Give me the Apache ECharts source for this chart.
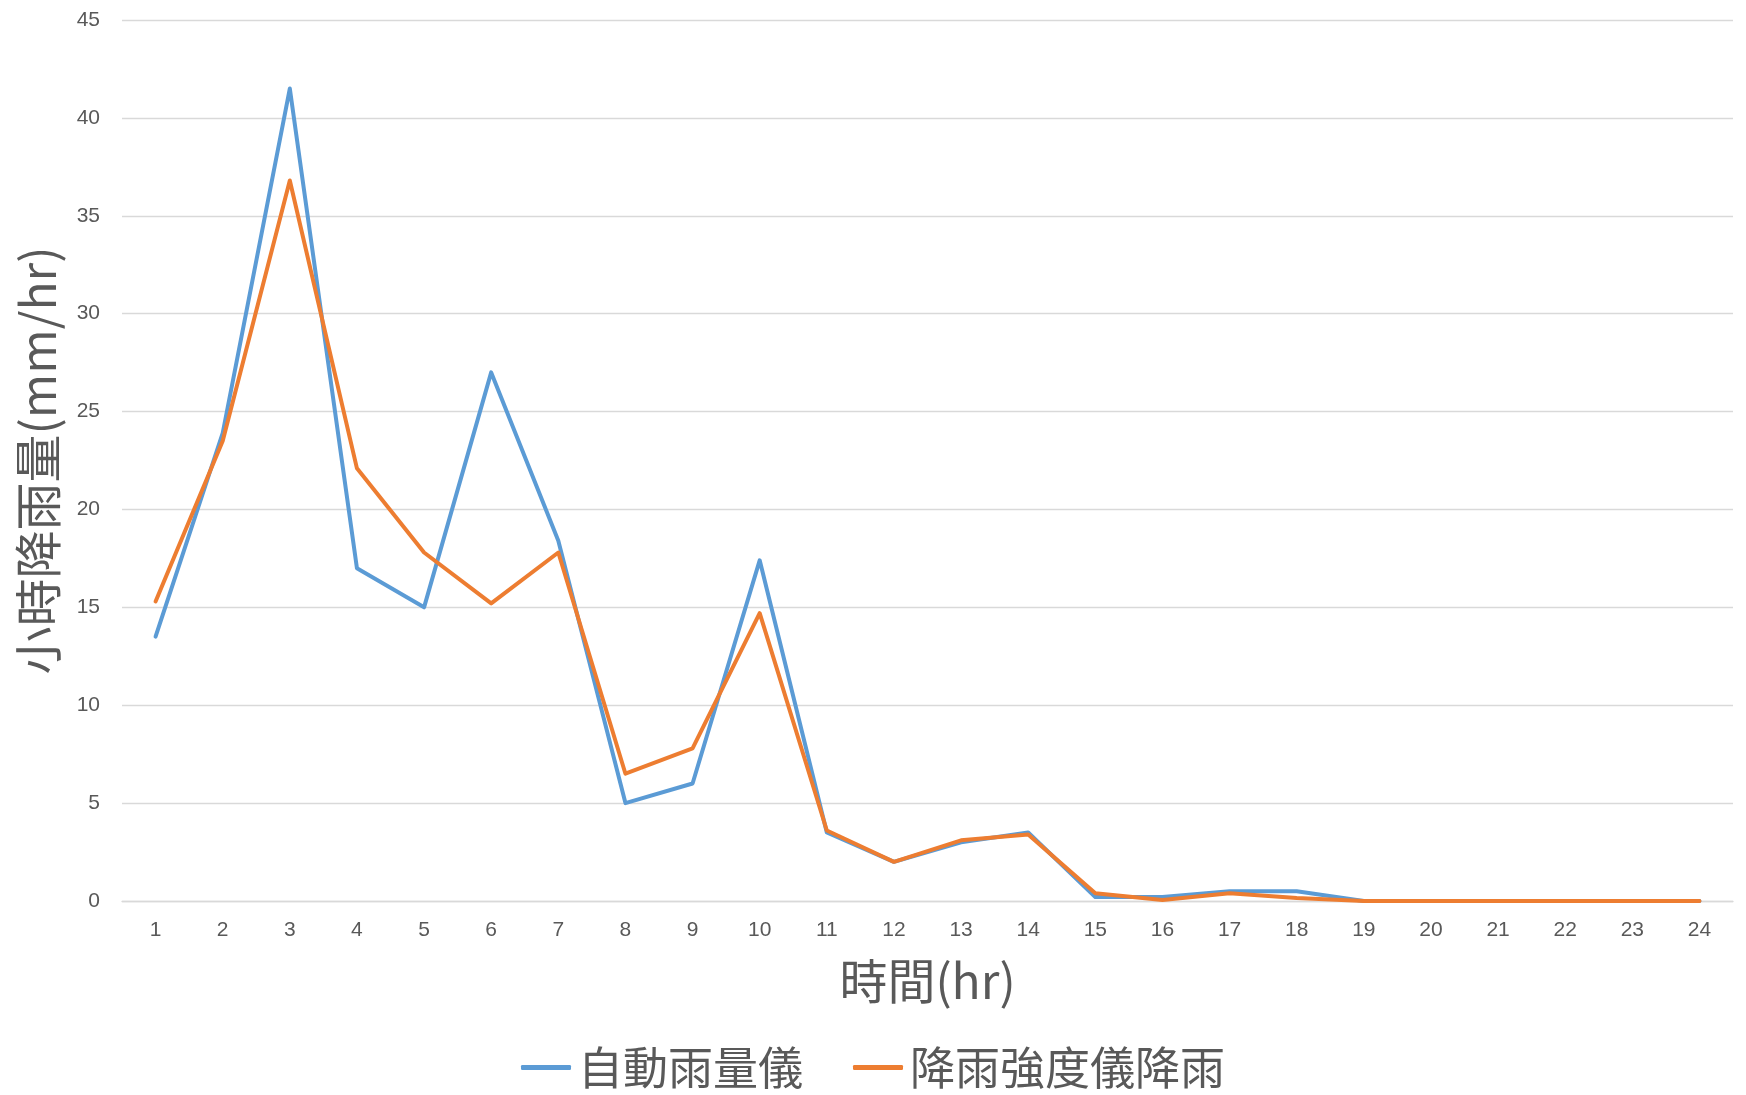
<!DOCTYPE html>
<html>
<head>
<meta charset="utf-8">
<title>小時降雨量</title>
<script src="https://cdn.jsdelivr.net/npm/echarts@6/dist/echarts.min.js"></script>
<style>
  html, body { margin: 0; padding: 0; background: #fff; }
  #chart { width: 1746px; height: 1095px; }
</style>
</head>
<body>
<div id="chart"></div>
<script>
// Hours of the day (category axis)
const hours = ['1','2','3','4','5','6','7','8','9','10','11','12','13','14','15','16','17','18','19','20','21','22','23','24'];

// Hourly rainfall from the automatic rain gauge (mm/hr)
const gaugeRain = [13.5, 23.9, 41.5, 17.0, 15.0, 27.0, 18.4, 5.0, 6.0, 17.4, 3.5, 2.0, 3.0, 3.5, 0.2, 0.2, 0.5, 0.5, 0, 0, 0, 0, 0, 0];

// Hourly rainfall from the rainfall-intensity meter (mm/hr)
const intensityRain = [15.3, 23.5, 36.8, 22.1, 17.8, 15.2, 17.8, 6.5, 7.8, 14.7, 3.6, 2.0, 3.1, 3.4, 0.4, 0.05, 0.4, 0.15, 0, 0, 0, 0, 0, 0];

const seriesNames = ['自動雨量儀', '降雨強度儀降雨'];
const yTicks = { min: 0, max: 45, interval: 5 };

const textColor = '#595959';
const gridColor = '#d9d9d9';
const cjkFont = '"Noto Sans CJK TC", "Noto Sans CJK SC", sans-serif';
const numFont = '"Liberation Sans", Arial, sans-serif';

const chart = echarts.init(document.getElementById('chart'), null, { renderer: 'canvas' });

chart.setOption({
  animation: false,
  backgroundColor: '#ffffff',
  color: ['#5b9bd5', '#ed7d31'],
  grid: { left: 122, right: 13, top: 20, bottom: 194, containLabel: false },
  legend: {
    data: seriesNames,
    left: 'center',
    top: 1040,
    itemGap: 50,
    itemWidth: 50,
    itemHeight: 5,
    icon: 'roundRect',
    textStyle: { color: textColor, fontSize: 45, fontFamily: cjkFont, padding: [0, 0, 0, 2] }
  },
  xAxis: {
    type: 'category',
    data: hours,
    boundaryGap: true,
    name: '時間(hr)',
    nameLocation: 'middle',
    nameGap: 56,
    nameTextStyle: { color: textColor, fontSize: 48, fontFamily: cjkFont },
    axisLine: { show: true, lineStyle: { color: gridColor, width: 1.3 } },
    axisTick: { show: false },
    axisLabel: { color: textColor, fontSize: 21, fontFamily: numFont, margin: 19 }
  },
  yAxis: {
    type: 'value',
    min: yTicks.min,
    max: yTicks.max,
    interval: yTicks.interval,
    name: '小時降雨量(mm/hr)',
    nameLocation: 'middle',
    nameGap: 60,
    nameTextStyle: { color: textColor, fontSize: 48, fontFamily: cjkFont },
    axisLine: { show: false },
    axisTick: { show: false },
    axisLabel: { color: textColor, fontSize: 21, fontFamily: numFont, margin: 22 },
    splitLine: { show: true, lineStyle: { color: gridColor, width: 1.3 } }
  },
  series: [
    {
      name: seriesNames[0],
      type: 'line',
      data: gaugeRain,
      showSymbol: false,
      symbol: 'none',
      lineStyle: { width: 4, cap: 'round', join: 'round' }
    },
    {
      name: seriesNames[1],
      type: 'line',
      data: intensityRain,
      showSymbol: false,
      symbol: 'none',
      lineStyle: { width: 4, cap: 'round', join: 'round' }
    }
  ]
});
</script>
</body>
</html>
